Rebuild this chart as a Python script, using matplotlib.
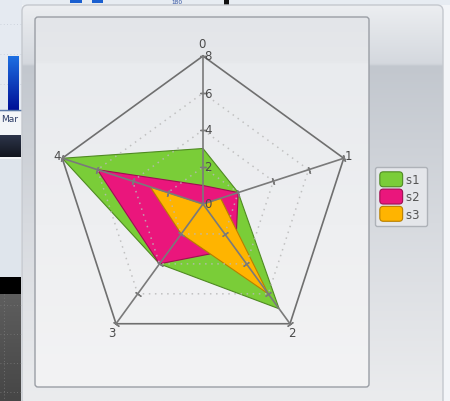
import numpy as np
import matplotlib
matplotlib.use('Agg')
import matplotlib.pyplot as plt
from matplotlib.patches import FancyBboxPatch, Rectangle, Patch
from matplotlib.legend_handler import HandlerPatch
from matplotlib.colors import LinearSegmentedColormap

# ---------------- data ----------------
categories = ['0', '1', '2', '3', '4']
s1 = [3, 2, 7, 4, 8]
s2 = [1, 2, 3, 4, 6]
s3 = [0, 1, 6, 2, 3]
series_names = ['s1', 's2', 's3']
radial_ticks = [0, 2, 4, 6, 8]
r_max = 8

# ---------------- styles ----------------
fill_colors = ['#7acd38', '#ea167c', '#ffb400']
edge_colors = ['#4f8a22', '#9e0f52', '#b77f00']
label_offsets = [(-1.5, 12), (1, 3), (2, -9), (-4, -8.5), (-5.5, 3)]
label_ha = ['center', 'left', 'center', 'center', 'center']
txt_color = '#4a4a4a'

W, H = 450, 402
fig = plt.figure(figsize=(W / 100, H / 100), dpi=100)
fig.patch.set_facecolor('#f3f5f8')

bg = fig.add_axes([0, 0, 1, 1])
bg.set_xlim(0, W)
bg.set_ylim(H, 0)
bg.axis('off')


def vgrad(x0, x1, y0, y1, stops, clip=None, z=0):
    cmap = LinearSegmentedColormap.from_list('g', stops)
    arr = np.linspace(0, 1, 256).reshape(-1, 1)
    im = bg.imshow(arr, cmap=cmap, extent=(x0, x1, y1, y0), origin='upper',
                   aspect='auto', interpolation='bilinear', zorder=z)
    if clip is not None:
        im.set_clip_path(clip)
    return im


# ---- surrounding screenshot fragments (left strip / top strip) ----
bg.add_patch(Rectangle((0, 0), 22, 113, facecolor='#e5eaf1', edgecolor='none', zorder=0))
for yy in [25, 55, 85]:
    bg.plot([0, 21], [yy, yy], color='#c5ccd6', lw=0.6, ls=(0, (1, 3)), zorder=0.5)
bar = Rectangle((8, 57), 11, 54, facecolor='none', edgecolor='none', zorder=1)
bg.add_patch(bar)
vgrad(8, 19, 57, 111, [(0, '#1d6fe2'), (1, '#000f96')], clip=bar, z=1)
bg.plot([0, 21], [111, 111], color='#5a78a8', lw=1, zorder=1.2)
bg.text(10, 119.5, 'Mar', fontsize=6.5, color='#2a3a66', ha='center', va='center', zorder=2)
vgrad(0, 21, 137, 158, [(0, '#2d354a'), (1, '#12161f')], z=0.6)
bg.add_patch(Rectangle((0, 160), 21, 118, facecolor='#dfe5ec', edgecolor='none', zorder=0))
bg.add_patch(Rectangle((0, 278), 21, 17, facecolor='#000000', edgecolor='none', zorder=0))
vgrad(0, 21, 295, 402, [(0, '#5e5e5e'), (1, '#464646')], z=0.6)
for yy in [306, 335, 364, 393]:
    bg.plot([0, 21], [yy, yy], color='#7a7a7a', lw=0.6, ls=(0, (1, 3)), zorder=0.7)
bg.plot([4, 4], [295, 402], color='#7a7a7a', lw=0.6, ls=(0, (1, 3)), zorder=0.7)

bg.add_patch(Rectangle((22, 0), 428, 6, facecolor='#e7ecf2', edgecolor='none', zorder=0))
bg.add_patch(Rectangle((70, 0), 12, 4, facecolor='#1a5fd0', edgecolor='none', zorder=0.5))
bg.add_patch(Rectangle((92, 0), 11, 4, facecolor='#1a5fd0', edgecolor='none', zorder=0.5))
bg.add_patch(Rectangle((224, 0), 5, 6, facecolor='#111111', edgecolor='none', zorder=0.5))
bg.text(177, 0.3, '180', fontsize=4.2, color='#3050a0', ha='center', va='top', zorder=0.5)

# ---- outer glossy panel ----
outer = FancyBboxPatch((22, 6), 421, 402, boxstyle='round,pad=0,rounding_size=6',
                       facecolor='none', edgecolor='#c4c8ce', lw=1, zorder=3)
bg.add_patch(outer)
vgrad(22, 443, 6, 402, [(0, '#eceef1'), (0.148, '#d4d8de'), (0.151, '#c2c7ce'),
                        (0.55, '#d7dadf'), (1, '#ebecee')], clip=outer, z=2)

# ---- inner panel ----
inner = FancyBboxPatch((35, 18), 334, 370, boxstyle='round,pad=0,rounding_size=3',
                       facecolor='none', edgecolor='#9a9ea5', lw=1, zorder=5)
bg.add_patch(inner)
vgrad(35, 369, 18, 388, [(0, '#e3e5e9'), (0.12, '#e6e8eb'), (0.125, '#e9ebee'),
                         (1, '#f3f3f4')], clip=inner, z=4)

# ---------------- radar ----------------
cx, cy, R = 203, 205, 148
ax = fig.add_axes([(cx - R) / W, (H - cy - R) / H, 2 * R / W, 2 * R / H],
                  projection='polar')
ax.set_theta_zero_location('N')
ax.set_theta_direction(-1)
ax.set_ylim(0, r_max)
ax.patch.set_alpha(0)
ax.grid(False)
ax.spines['polar'].set_visible(False)
ax.set_xticks([])
ax.set_yticks([])

n = len(categories)
theta = np.linspace(0, 2 * np.pi, n, endpoint=False)
tc = np.append(theta, theta[0])


def closed(v):
    return list(v) + [v[0]]


handles = []
for vals, name, fc, ec in zip([s1, s2, s3], series_names, fill_colors, edge_colors):
    ax.fill(tc, closed(vals), facecolor=fc, edgecolor=ec, lw=0.8, zorder=2, clip_on=False)
    handles.append(Patch(facecolor=fc, edgecolor=ec, lw=0.8, label=name))

for r in radial_ticks[1:-1]:
    ax.plot(tc, [r] * len(tc), color='#b9b9b9', lw=1.1, ls=(0, (1, 3)), zorder=3,
            clip_on=False, alpha=0.85)
ax.plot(tc, [r_max] * len(tc), color='#6f6f6f', lw=1.2, zorder=4, clip_on=False)
for k, t in enumerate(theta):
    ax.plot([t, t], [0, r_max], color='#7a7a7a', lw=1.2, zorder=4, clip_on=False)
    ax.plot([t] * 4, radial_ticks[1:], ls='none', marker=(2, 2, 90 - 72 * k),
            ms=5, mec='#7a7a7a', mew=1, zorder=4, clip_on=False)

for r in radial_ticks:
    ax.annotate(str(r), xy=(0, r), xytext=(1.5, 0), textcoords='offset pixels',
                ha='left', va='center', fontsize=8.5, color=txt_color, zorder=5,
                annotation_clip=False)

for k, (t, lab) in enumerate(zip(theta, categories)):
    ax.annotate(lab, xy=(t, r_max), xytext=label_offsets[k], textcoords='offset pixels',
                ha=label_ha[k], va='center', fontsize=8.5, color=txt_color, zorder=5,
                annotation_clip=False)


def round_patch(legend, orig_handle, xdescent, ydescent, width, height, fontsize):
    return FancyBboxPatch((-xdescent + 0.5, -ydescent + 0.5), width - 1, height - 1,
                          boxstyle='round,pad=0,rounding_size=2.5')


leg = fig.legend(handles=handles, loc='upper left',
                 bbox_to_anchor=(375 / W, 1 - 168 / H), fontsize=8.5,
                 handlelength=2.05, handleheight=1.75, labelspacing=0.08,
                 handletextpad=0.2, borderpad=0.35, borderaxespad=0,
                 fancybox=True, framealpha=1, facecolor='#e4e6ea', edgecolor='#aeb2b8',
                 handler_map={Patch: HandlerPatch(patch_func=round_patch)})
leg.get_frame().set_linewidth(1)
for t in leg.get_texts():
    t.set_color('#555555')
    t.set_text(t.get_text() + ' ')

fig.savefig('out.png', dpi=100)
